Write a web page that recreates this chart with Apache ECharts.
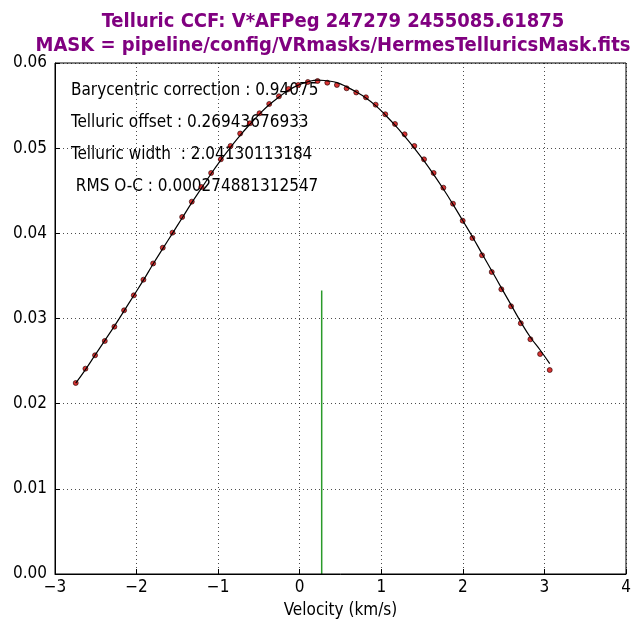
<!DOCTYPE html>
<html>
<head>
<meta charset="utf-8">
<script src="https://cdn.jsdelivr.net/npm/echarts@6/dist/echarts.min.js"></script>
<style>
  html, body { margin: 0; padding: 0; background: #fff; }
  #main { width: 634px; height: 621px; }
</style>
</head>
<body>
<div id="main"></div>
<script>
// velocity grid (km/s)
var velocity = [-2.746, -2.627, -2.509, -2.390, -2.272, -2.153, -2.034, -1.916, -1.797, -1.679,
  -1.560, -1.441, -1.323, -1.204, -1.086, -0.967, -0.848, -0.730, -0.611, -0.493,
  -0.374, -0.255, -0.137, -0.018, 0.100, 0.219, 0.338, 0.456, 0.575, 0.693,
  0.812, 0.931, 1.049, 1.168, 1.286, 1.405, 1.524, 1.642, 1.761, 1.879,
  1.998, 2.117, 2.235, 2.354, 2.472, 2.591, 2.710, 2.828, 2.947, 3.065];
// measured CCF (red dots)
var ccf = [0.02243, 0.02411, 0.02568, 0.02736, 0.02904, 0.03096, 0.03272, 0.03456, 0.03646, 0.03831,
  0.04008, 0.04192, 0.04372, 0.04544, 0.04709, 0.04869, 0.05026, 0.05172, 0.05292, 0.05410,
  0.05519, 0.05609, 0.05695, 0.05742, 0.05777, 0.05789, 0.05769, 0.05742, 0.05703, 0.05654,
  0.05597, 0.05511, 0.05398, 0.05284, 0.05163, 0.05026, 0.04869, 0.04709, 0.04536, 0.04348,
  0.04148, 0.03945, 0.03742, 0.03546, 0.03343, 0.03143, 0.02944, 0.02756, 0.02583, 0.02395];
// gaussian fit (black line)
var fit = [0.0224, 0.0240, 0.0257, 0.0274, 0.0291, 0.0309, 0.0327, 0.0345, 0.0364, 0.0382,
  0.0400, 0.0418, 0.0436, 0.0453, 0.0470, 0.0486, 0.0501, 0.0515, 0.0528, 0.0540,
  0.0551, 0.0560, 0.0568, 0.0574, 0.0578, 0.0580, 0.0579, 0.0577, 0.0572, 0.0566,
  0.0559, 0.0550, 0.0539, 0.0527, 0.0514, 0.0500, 0.0485, 0.0469, 0.0452, 0.0434,
  0.0415, 0.0396, 0.0376, 0.0356, 0.0336, 0.0316, 0.0296, 0.0278, 0.0263, 0.0247];
// telluric offset marker
var offsetX = [0.2694, 0.2694];
var offsetY = [0, 0.0333];

var infoLines = [
  'Barycentric correction : 0.94075',
  'Telluric offset : 0.26943676933',
  'Telluric width  : 2.04130113184',
  ' RMS O-C : 0.000274881312547'
];
var titleText = 'Telluric CCF: V*AFPeg 247279 2455085.61875\nMASK = pipeline/config/VRmasks/HermesTelluricsMask.fits';

var FONT = '"DejaVu Sans Condensed", "DejaVu Sans", sans-serif';

function pairs(xs, ys) {
  return xs.map(function (x, i) { return [x, ys[i]]; });
}

var chart = echarts.init(document.getElementById('main'), null, { renderer: 'canvas' });

var graphics = infoLines.map(function (t, i) {
  return {
    type: 'text',
    x: 71,
    y: 82 + i * 32,
    style: { text: t, font: '17px ' + FONT, fill: '#000' }
  };
});
graphics.push({
  type: 'text', x: 333, y: 10,
  style: {
    text: titleText,
    font: 'bold 20px ' + FONT, fill: '#800080', align: 'center', lineHeight: 24
  }
});
// frame on top and right like matplotlib
graphics.push({
  type: 'rect',
  shape: { x: 55, y: 63, width: 571, height: 511 },
  style: { fill: 'none', stroke: '#000', lineWidth: 1 },
  silent: true, z: 10
});

var option = {
  animation: false,
  backgroundColor: '#fff',
  grid: { left: 55, right: 8, top: 63, bottom: 47, containLabel: false, outerBoundsMode: 'none' },
  graphic: graphics,
  xAxis: {
    type: 'value', min: -3, max: 4, interval: 1,
    name: 'Velocity (km/s)', nameLocation: 'middle', nameGap: 28,
    nameTextStyle: { fontFamily: FONT, fontSize: 17, color: '#000' },
    axisLine: { show: true, onZero: false, lineStyle: { color: '#000', width: 1 } },
    axisTick: { show: true, inside: true, length: 5, lineStyle: { color: '#000' } },
    axisLabel: {
      fontFamily: FONT, fontSize: 17, color: '#000', margin: 5,
      formatter: function (v) { return v < 0 ? '\u2212' + Math.abs(v) : String(v); }
    },
    splitLine: { show: true, lineStyle: { color: '#000', type: [1, 3], width: 1, opacity: 0.7 } }
  },
  yAxis: {
    type: 'value', min: 0, max: 0.06, interval: 0.01,
    axisLine: { show: true, onZero: false, lineStyle: { color: '#000', width: 1 } },
    axisTick: { show: true, inside: true, length: 5, lineStyle: { color: '#000' } },
    axisLabel: {
      fontFamily: FONT, fontSize: 17, color: '#000', margin: 8,
      formatter: function (v) { return v.toFixed(2); }
    },
    splitLine: { show: true, lineStyle: { color: '#000', type: [1, 3], width: 1, opacity: 0.7 } }
  },
  series: [
    {
      type: 'scatter',
      data: pairs(velocity, ccf),
      symbolSize: 5,
      itemStyle: { color: '#d00000', borderColor: '#200', borderWidth: 0.8 },
      z: 2
    },
    {
      type: 'line',
      data: pairs(velocity, fit),
      smooth: true,
      showSymbol: false,
      lineStyle: { color: '#000', width: 1.2 },
      z: 3
    },
    {
      type: 'line',
      data: pairs(offsetX, offsetY),
      showSymbol: false,
      lineStyle: { color: '#2a9a2a', width: 1.5 },
      z: 1
    }
  ]
};
chart.setOption(option);
</script>
</body>
</html>
